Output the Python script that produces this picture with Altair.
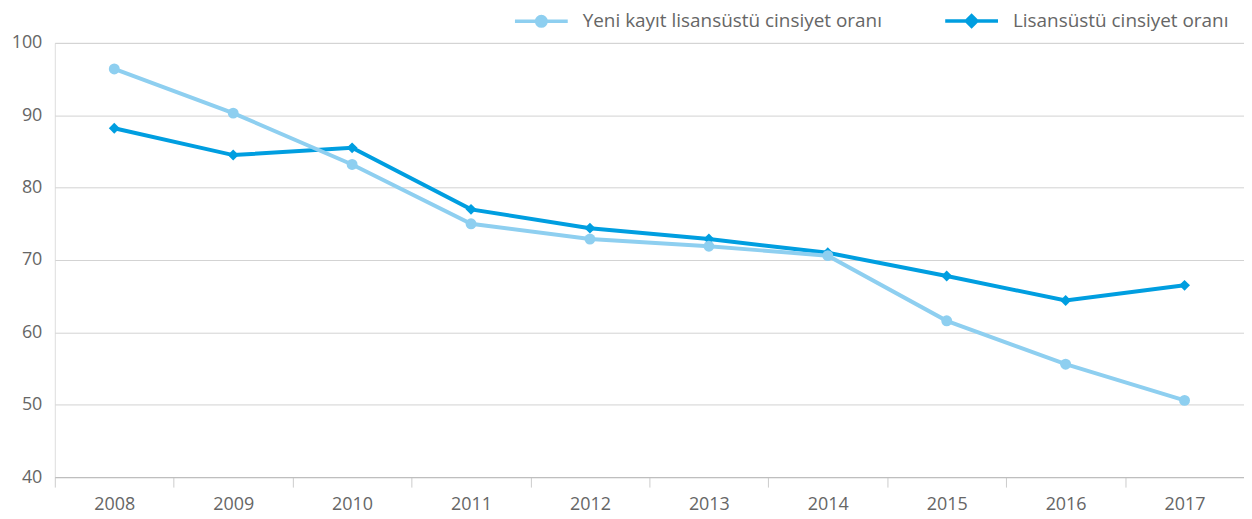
import altair as alt
import pandas as pd

years = ["2008", "2009", "2010", "2011", "2012", "2013", "2014", "2015", "2016", "2017"]
yeni_kayit = [96.4, 90.3, 83.2, 75.0, 72.9, 71.9, 70.6, 61.6, 55.6, 50.6]
lisansustu = [88.2, 84.5, 85.5, 77.0, 74.4, 72.9, 71.0, 67.8, 64.4, 66.5]
series_names = ["Yeni kayıt lisansüstü cinsiyet oranı", "Lisansüstü cinsiyet oranı"]
colors = ["#8ECFF0", "#009EE0"]
y_ticks = [40, 50, 60, 70, 80, 90, 100]

rows = []
for y, v in zip(years, lisansustu):
    rows.append({"Yıl": y, "Seri": series_names[1], "Oran": v})
for y, v in zip(years, yeni_kayit):
    rows.append({"Yıl": y, "Seri": series_names[0], "Oran": v})
df = pd.DataFrame(rows)

FONT = "Open Sans"
TXT = "#666666"
FS = 18

circle_path = "M-1,0 L1,0 M-0.18,0 A0.18,0.18 0 1,0 0.18,0 A0.18,0.18 0 1,0 -0.18,0 Z"
diamond_path = "M-1,0 L1,0 M0,-0.2 L0.2,0 L0,0.2 L-0.2,0 Z"


def make_legend():
    return alt.Legend(
        title=None,
        orient="none",
        legendX=460,
        legendY=-50.5,
        direction="horizontal",
        symbolSize=2809,
        symbolStrokeWidth=3.5,
        symbolOpacity=1,
        labelFontSize=19,
        labelFont=FONT,
        labelColor=TXT,
        labelOffset=13,
        labelLimit=500,
        columnPadding=56,
        padding=0,
    )


x_enc = alt.X(
    "Yıl:O",
    sort=years,
    bandPosition=0.5,
    scale=alt.Scale(type="band", paddingInner=0, paddingOuter=0),
    axis=alt.Axis(
        title=None,
        tickBand="extent",
        labelAngle=0,
        tickSize=10,
        tickColor="#cccccc",
        domainColor="#bbbbbb",
        labelFontSize=FS,
        labelFont=FONT,
        labelColor=TXT,
        labelPadding=9,
        grid=False,
    ),
)
y_enc = alt.Y(
    "Oran:Q",
    scale=alt.Scale(domain=[40, 100], nice=False, zero=False),
    axis=alt.Axis(
        title=None,
        values=y_ticks,
        grid=True,
        gridColor="#d3d3d3",
        domain=False,
        ticks=False,
        labelPadding=13,
        labelFontSize=FS,
        labelFont=FONT,
        labelColor=TXT,
    ),
)

base = alt.Chart(df)


def series_line(i):
    return (
        base.transform_filter(alt.datum.Seri == series_names[i])
        .mark_line(strokeWidth=4, color=colors[i])
        .encode(x=x_enc, y=y_enc)
    )


def series_points(i, shape):
    return (
        base.transform_filter(alt.datum.Seri == series_names[i])
        .mark_point(filled=True, size=120, opacity=1, shape=shape, color=colors[i])
        .encode(x=x_enc, y=y_enc)
    )


# legend-only layer: its own marks are pushed outside the clipped plot area
legend_layer = (
    base.transform_calculate(Oran="1000")
    .mark_point(filled=True, strokeWidth=3.5, opacity=1, clip=True)
    .encode(
        x=x_enc,
        y=y_enc,
        color=alt.Color("Seri:N", scale=alt.Scale(domain=series_names, range=colors), legend=make_legend()),
        stroke=alt.Stroke("Seri:N", scale=alt.Scale(domain=series_names, range=colors), legend=make_legend()),
        shape=alt.Shape(
            "Seri:N",
            scale=alt.Scale(domain=series_names, range=[circle_path, diamond_path]),
            legend=make_legend(),
        ),
    )
)

chart = (
    alt.layer(
        series_line(1),
        series_line(0),
        series_points(1, "diamond"),
        series_points(0, "circle"),
        legend_layer,
    )
    .properties(
        width=1194,
        height=436,
        autosize=alt.AutoSizeParams(type="none"),
        padding={"left": 47, "top": 34, "right": 0, "bottom": 40},
    )
    .configure_view(stroke=None)
    .configure(background="white")
)

chart.save("out.html", embed_options={"renderer": "svg", "actions": False})
